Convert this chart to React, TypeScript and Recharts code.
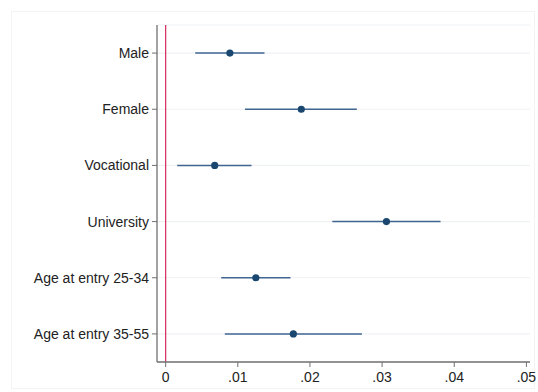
import React from "react";
import {
  ScatterChart,
  Scatter,
  XAxis,
  YAxis,
  CartesianGrid,
  ReferenceLine,
  ErrorBar,
} from "recharts";

const categories = [
  "Male",
  "Female",
  "Vocational",
  "University",
  "Age at entry 25-34",
  "Age at entry 35-55",
];
const estimates = [0.0089, 0.0188, 0.0068, 0.0306, 0.0125, 0.0177];
const lower = [0.0041, 0.011, 0.0016, 0.0231, 0.0077, 0.0082];
const upper = [0.0137, 0.0265, 0.0119, 0.0381, 0.0173, 0.0272];
const xTicks = [0, 0.01, 0.02, 0.03, 0.04, 0.05];

const data = categories.map((c, i) => ({
  name: c,
  y: i + 1,
  est: estimates[i],
  err: [estimates[i] - lower[i], upper[i] - estimates[i]],
}));

const fmtX = (v: number) => (v === 0 ? "0" : v.toFixed(2).replace(/^0/, ""));
const fmtY = (v: number) => categories[v - 1] ?? "";

const Dot = (props: any) => {
  const { cx, cy } = props;
  return <circle cx={cx} cy={cy} r={3.6} fill="#1a476f" />;
};

const font = "Liberation Sans, Arial, sans-serif";

export default function App() {
  return (
    <div style={{ position: "absolute", left: 0, top: 0, width: 538, height: 392, background: "#fff" }}>
      <div
        style={{
          position: "absolute",
          left: 11,
          top: 11,
          width: 524,
          height: 378,
          border: "1px solid #f3f3f3",
          boxSizing: "border-box",
        }}
      />
      <ScatterChart
        width={538}
        height={392}
        margin={{ top: 25, right: 8, bottom: 0, left: 0 }}
        style={{ position: "absolute", left: 0, top: 0 }}
      >
        <CartesianGrid horizontal={true} vertical={false} stroke="#eef1f4" strokeWidth={1.2} />
        <XAxis
          type="number"
          dataKey="est"
          domain={[-0.0012, 0.0505]}
          ticks={xTicks}
          tickFormatter={fmtX}
          allowDataOverflow
          height={30}
          tickSize={5}
          tickMargin={5}
          tick={{ fill: "#222", fontSize: 14, fontFamily: font }}
          axisLine={{ stroke: "#707070", strokeWidth: 1.3 }}
          tickLine={{ stroke: "#707070" }}
        />
        <YAxis
          type="number"
          dataKey="y"
          domain={[0.5, 6.5]}
          ticks={[1, 2, 3, 4, 5, 6]}
          reversed
          tickFormatter={fmtY}
          width={157}
          tickSize={5}
          tickMargin={3}
          interval={0}
          tick={{ fill: "#222", fontSize: 14, fontFamily: font }}
          axisLine={{ stroke: "#707070", strokeWidth: 1.3 }}
          tickLine={{ stroke: "#707070" }}
        />
        <ReferenceLine x={0} stroke="#d42a5c" strokeWidth={1.2} />
        <Scatter data={data} shape={Dot} isAnimationActive={false}>
          <ErrorBar dataKey="err" direction="x" width={0} stroke="#3f6590" strokeWidth={1.5} />
        </Scatter>
      </ScatterChart>
    </div>
  );
}
